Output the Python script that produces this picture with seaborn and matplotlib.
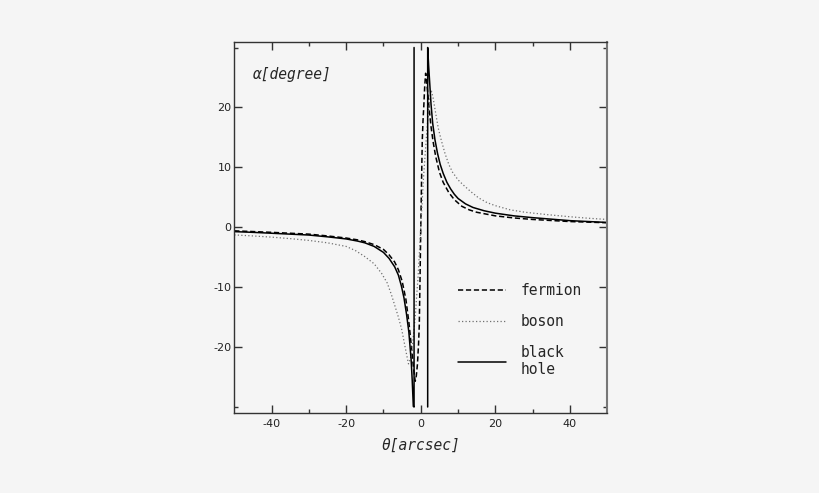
import matplotlib
matplotlib.use('Agg')
import pandas as pd
import matplotlib.pyplot as plt
import seaborn as sns

# deflection angle alpha [degree] vs image position theta [arcsec]
fermion_theta = [-50, -45, -40, -35, -30, -25, -20, -17, -15, -12.5, -10, -8.5, -7, -6, -5,
                 -4, -3.2, -2.5, -2.0, -1.5, -1.2, -0.9, -0.6, -0.4, -0.2, 0,
                 0.2, 0.4, 0.6, 0.8, 1.05, 1.3, 1.5, 1.8, 2.2, 2.7, 3.3, 4.0, 5.0, 6, 7.5,
                 9, 11, 13, 15, 20, 25, 30, 40, 50]
fermion_alpha = [-0.6, -0.72, -0.85, -1.0, -1.15, -1.45, -1.8, -2.1, -2.4, -2.9, -3.7, -4.6, -5.8, -7.1, -9.0,
                 -12.0, -15.8, -20.0, -23.2, -25.7, -24.8, -22.9, -19.5, -16.3, -8.5, 0,
                 7.5, 14.5, 17.8, 20.1, 23.5, 25.7, 25.0, 22.8, 20.1, 17.0, 14.3, 11.8, 9.2, 7.5, 5.8,
                 4.6, 3.5, 2.9, 2.5, 1.9, 1.55, 1.3, 0.95, 0.75]

boson_theta = [-50, -45, -40, -35, -30, -25, -20, -17.5, -15, -12.5, -10.5, -9, -7.9, -6.9, -6,
               -5.1, -4.2, -3.3, -2.8, -2.2, -1.5, -0.7, 0,
               0.7, 1.5, 2.2, 2.8, 3.3, 4.0, 4.7, 5.5, 6.5, 7.5, 8.5, 10, 11.5, 13.3, 15.5,
               17.8, 20, 24, 28, 34, 40, 45, 50]
boson_alpha = [-1.28, -1.45, -1.65, -1.9, -2.2, -2.6, -3.2, -3.9, -4.9, -6.1, -7.7, -9.3, -11.2, -13.2, -15.0,
               -17.1, -20.0, -22.8, -22.0, -19.5, -15.0, -8.0, 0,
               8.0, 15.0, 20.5, 22.9, 21.6, 19.0, 16.5, 14.5, 12.3, 10.5, 9.2, 7.9, 7.0, 6.0, 4.9,
               4.1, 3.6, 2.9, 2.5, 2.1, 1.75, 1.5, 1.3]

# black hole: two branches, each closed by a vertical jump near the photon ring
bh_left_theta = [-50, -45, -40, -35, -30, -25, -20, -17, -15, -12.5, -10, -8.5, -7, -6, -5.2,
                 -4.5, -3.8, -3.2, -2.6, -2.3, -2.0, -1.8, -1.8]
bh_left_alpha = [-0.73, -0.85, -1.0, -1.15, -1.3, -1.6, -1.95, -2.3, -2.6, -3.2, -4.2, -5.2, -6.6, -8.0, -9.8,
                 -11.8, -14.6, -17.5, -22.0, -25.5, -29.9, -30.0, 30.0]
bh_right_theta = [1.85, 1.85, 2.1, 2.4, 2.75, 3.2, 3.8, 4.5, 5.2, 6, 7, 8, 9, 10, 12, 14, 17,
                  20, 25, 30, 35, 40, 45, 50]
bh_right_alpha = [-30.0, 30.0, 27.0, 24.0, 20.5, 17.3, 14.6, 12.3, 10.5, 9.0, 7.5, 6.4, 5.5, 4.8, 3.9, 3.3, 2.75,
                  2.35, 1.9, 1.6, 1.35, 1.1, 0.95, 0.8]

models = ['fermion', 'boson', 'black hole']

rows = []
for t, a in zip(fermion_theta, fermion_alpha):
    rows.append(('fermion', 0, t, a))
for t, a in zip(boson_theta, boson_alpha):
    rows.append(('boson', 0, t, a))
for t, a in zip(bh_left_theta, bh_left_alpha):
    rows.append(('black hole', 0, t, a))
for t, a in zip(bh_right_theta, bh_right_alpha):
    rows.append(('black hole', 1, t, a))
df = pd.DataFrame(rows, columns=['model', 'segment', 'theta', 'alpha'])

styles = {
    'fermion': dict(color='black', linewidth=1.1, linestyle=(0, (3.4, 1.8))),
    'boson': dict(color='#707070', linewidth=0.9, linestyle=(0, (1, 1.8))),
    'black hole': dict(color='black', linewidth=1.1, linestyle='-'),
}
legend_labels = {'fermion': 'fermion', 'boson': 'boson', 'black hole': 'black\nhole'}

sns.set_style('ticks')
bg = '#f5f5f5'
plt.rcParams.update({
    'axes.unicode_minus': False,
    'figure.facecolor': bg,
    'axes.facecolor': bg,
    'axes.edgecolor': '#333333',
    'axes.linewidth': 1.0,
    'xtick.color': '#333333',
    'ytick.color': '#333333',
    'xtick.labelcolor': '#222222',
    'ytick.labelcolor': '#222222',
    'font.family': ['DejaVu Sans'],
})

fig = plt.figure(figsize=(8.2, 4.93), dpi=100)
ax = fig.add_axes([0.2857, 0.1623, 0.4549, 0.7535])

handles = []
for name in models:
    sub = df[df['model'] == name]
    n0 = len(ax.lines)
    sns.lineplot(data=sub, x='theta', y='alpha', units='segment', estimator=None,
                 sort=False, ax=ax, legend=False, **styles[name])
    handles.append(ax.lines[n0])

ax.set_xlim(-50, 50)
ax.set_ylim(-31, 31)
ax.set_xticks([-40, -20, 0, 20, 40])
ax.set_xticks([-30, -10, 10, 30], minor=True)
ax.set_yticks([-20, -10, 0, 10, 20])
ax.set_yticks([-30, 30], minor=True)
ax.tick_params(which='both', direction='in', top=True, right=True, labelsize=8)
ax.tick_params(which='major', length=5.5, width=1.0)
ax.tick_params(which='minor', length=3, width=1.0)
ax.tick_params(axis='y', pad=2)
ax.tick_params(axis='x', pad=4)
ax.spines['right'].set_color('#777777')
ax.spines['right'].set_linewidth(1.5)

mono = 'DejaVu Sans Mono'
ax.set_xlabel('θ[arcsec]', family=mono, style='italic', fontsize=10.5, labelpad=7)
ax.set_ylabel('')
ax.text(0.05, 0.9125, 'α[degree]', transform=ax.transAxes, family=mono,
        style='italic', fontsize=10.5, va='center', ha='left')

leg = ax.legend(handles, [legend_labels[m] for m in models], loc='upper left',
                bbox_to_anchor=(0.6, 0.35), frameon=False, borderpad=0,
                borderaxespad=0, handlelength=3.3, handletextpad=1.0,
                labelspacing=1.1, prop={'family': mono, 'size': 10.5})

fig.savefig('out.png', dpi=100, facecolor=bg)
